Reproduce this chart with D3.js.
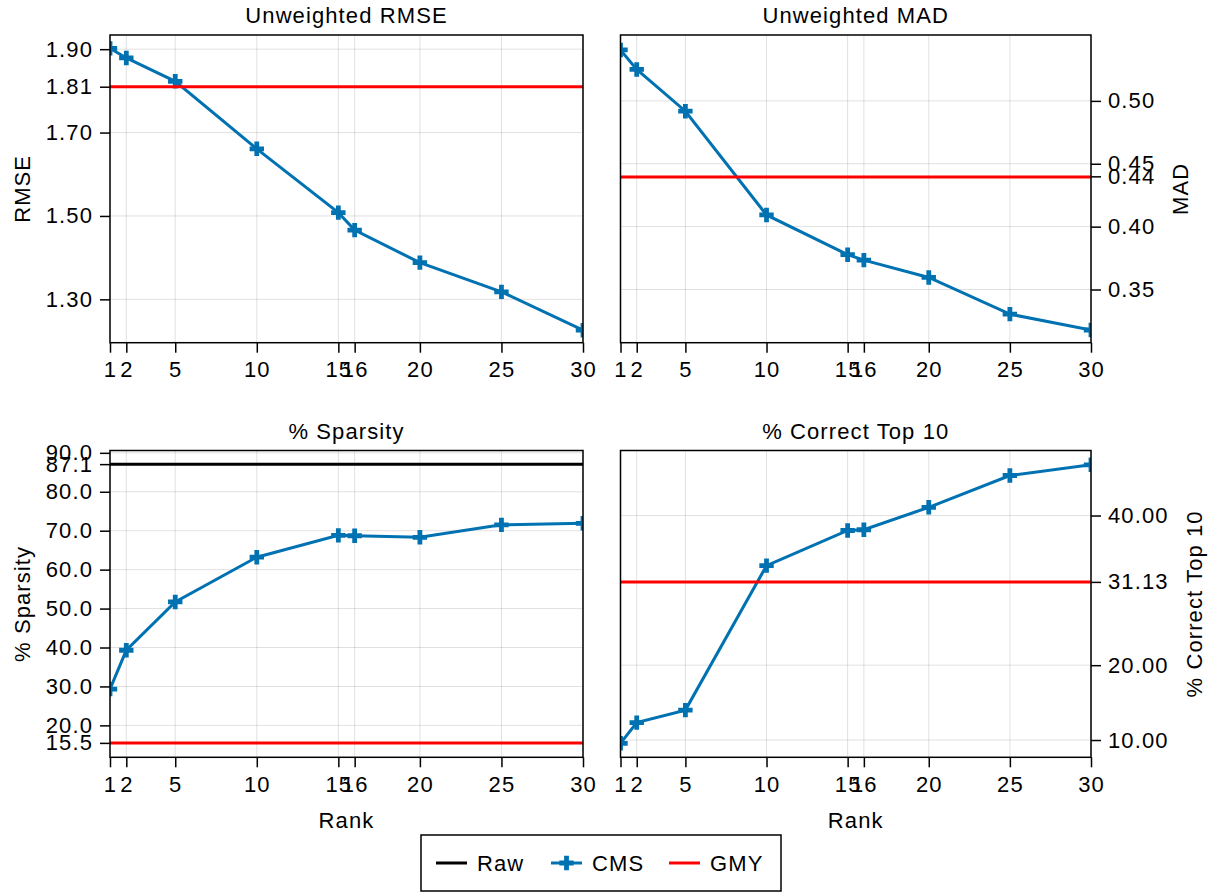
<!DOCTYPE html>
<html>
<head>
<meta charset="utf-8">
<script src="https://d3js.org/d3.v7.min.js"></script>
<style>
  body { margin: 0; background: white; }
  text { font-family: "Liberation Sans", Arial, sans-serif; font-size: 22px; letter-spacing: 1.1px; fill: black; }
</style>
</head>
<body>
<script>
// ranks on the x axis (shared by all panels)
const ranks = [1, 2, 5, 10, 15, 16, 20, 25, 30];
const rankTicks = [1, 2, 5, 10, 15, 16, 20, 25, 30];

// Unweighted RMSE
const rmseCMS = [1.902, 1.879, 1.823, 1.661, 1.508, 1.466, 1.388, 1.318, 1.226];
const rmseGMY = 1.81;
const rmseTicks = [1.30, 1.50, 1.70, 1.81, 1.90];

// Unweighted MAD
const madCMS = [0.5405, 0.525, 0.4918, 0.4093, 0.3777, 0.3734, 0.3596, 0.3304, 0.3178];
const madGMY = 0.4395;
const madTicks = [0.35, 0.40, 0.44, 0.45, 0.50];

// % Sparsity
const sparsityCMS = [29.3, 39.3, 51.7, 63.2, 68.8, 68.7, 68.3, 71.5, 71.9];
const sparsityRaw = 87.1;
const sparsityGMY = 15.5;
const sparsityTicks = [15.5, 20, 30, 40, 50, 60, 70, 80, 87.1, 90];

// % Correct Top 10
const top10CMS = [9.56, 12.32, 14.0, 33.3, 38.0, 38.1, 41.1, 45.35, 46.78];
const top10GMY = 31.13;
const top10Ticks = [10, 20, 31.13, 40];

const W = 1211, H = 892;
const blue = "#0072b2", red = "#ff0000";

const svg = d3.select("body").append("svg").attr("width", W).attr("height", H);

const panels = [
  {title: "Unweighted RMSE", ylabel: "RMSE", side: "left", x0: 110, x1: 583, y0: 35, y1: 342.7,
   domain: [1.196, 1.934], ticks: rmseTicks, fmt: ".2f", cms: rmseCMS, raw: null, gmy: rmseGMY, xlabel: false},
  {title: "Unweighted MAD", ylabel: "MAD", side: "right", x0: 620.5, x1: 1091, y0: 35, y1: 342.7,
   domain: [0.3077, 0.5524], ticks: madTicks, fmt: ".2f", cms: madCMS, raw: null, gmy: madGMY, xlabel: false},
  {title: "% Sparsity", ylabel: "% Sparsity", side: "left", x0: 110, x1: 583, y0: 450.5, y1: 757.3,
   domain: [11.8, 90.6], ticks: sparsityTicks, fmt: ".1f", cms: sparsityCMS, raw: sparsityRaw, gmy: sparsityGMY, xlabel: true},
  {title: "% Correct Top 10", ylabel: "% Correct Top 10", side: "right", x0: 620.5, x1: 1091, y0: 450.5, y1: 757.3,
   domain: [7.69, 48.69], ticks: top10Ticks, fmt: ".2f", cms: top10CMS, raw: null, gmy: top10GMY, xlabel: true}
];

const plus = "M-2.4,-7.2H2.4V-2.4H7.2V2.4H2.4V7.2H-2.4V2.4H-7.2V-2.4H-2.4Z";

panels.forEach((p, i) => {
  const x = d3.scaleLinear().domain([1, 30]).range([p.x0, p.x1]);
  const y = d3.scaleLinear().domain(p.domain).range([p.y1, p.y0]);
  const g = svg.append("g");

  // grid
  g.selectAll(".gx").data(rankTicks).join("line")
    .attr("x1", d => x(d)).attr("x2", d => x(d)).attr("y1", p.y0).attr("y2", p.y1)
    .attr("stroke", "rgba(0,0,0,0.12)").attr("stroke-width", 1);
  g.selectAll(".gy").data(p.ticks).join("line")
    .attr("x1", p.x0).attr("x2", p.x1).attr("y1", d => y(d)).attr("y2", d => y(d))
    .attr("stroke", "rgba(0,0,0,0.12)").attr("stroke-width", 1);

  // axes
  const xa = g.append("g").attr("transform", `translate(0,${p.y1})`)
    .call(d3.axisBottom(x).tickValues(rankTicks).tickFormat(d3.format("d")).tickSize(10).tickPadding(9));
  const ya = p.side === "left"
    ? g.append("g").attr("transform", `translate(${p.x0},0)`)
        .call(d3.axisLeft(y).tickValues(p.ticks).tickFormat(d3.format(p.fmt)).tickSize(10).tickPadding(7))
    : g.append("g").attr("transform", `translate(${p.x1},0)`)
        .call(d3.axisRight(y).tickValues(p.ticks).tickFormat(d3.format(p.fmt)).tickSize(10).tickPadding(7));
  [xa, ya].forEach(a => {
    a.select(".domain").remove();
    a.selectAll("line").attr("stroke", "black").attr("stroke-width", 1.5);
    a.selectAll("text").attr("font-size", null).attr("font-family", null).attr("fill", "black");
  });

  // clipped data area
  const clipId = "clip" + i;
  svg.append("clipPath").attr("id", clipId).append("rect")
    .attr("x", p.x0).attr("y", p.y0).attr("width", p.x1 - p.x0).attr("height", p.y1 - p.y0);
  const area = g.append("g").attr("clip-path", `url(#${clipId})`);

  if (p.raw !== null) {
    area.append("line").attr("x1", p.x0).attr("x2", p.x1).attr("y1", y(p.raw)).attr("y2", y(p.raw))
      .attr("stroke", "black").attr("stroke-width", 3);
  }
  const line = d3.line().x((d, j) => x(ranks[j])).y(d => y(d));
  area.append("path").datum(p.cms).attr("d", line)
    .attr("fill", "none").attr("stroke", blue).attr("stroke-width", 3);
  area.selectAll(".mk").data(p.cms).join("path")
    .attr("d", plus).attr("fill", blue)
    .attr("transform", (d, j) => `translate(${x(ranks[j])},${y(d)})`);
  area.append("line").attr("x1", p.x0).attr("x2", p.x1).attr("y1", y(p.gmy)).attr("y2", y(p.gmy))
    .attr("stroke", red).attr("stroke-width", 3);

  // frame
  g.append("rect").attr("x", p.x0).attr("y", p.y0).attr("width", p.x1 - p.x0).attr("height", p.y1 - p.y0)
    .attr("fill", "none").attr("stroke", "black").attr("stroke-width", 1.5);

  // title
  g.append("text").attr("x", (p.x0 + p.x1) / 2).attr("y", p.y0 - 12).attr("text-anchor", "middle").text(p.title);

  // y label
  const lx = p.side === "left" ? 22 : (p.ticks === top10Ticks ? 1194 : 1180);
  g.append("text").attr("transform", `translate(${lx},${(p.y0 + p.y1) / 2}) rotate(-90)`)
    .attr("text-anchor", "middle").attr("dy", "0.35em").text(p.ylabel);

  if (p.xlabel) {
    g.append("text").attr("x", (p.x0 + p.x1) / 2).attr("y", 828).attr("text-anchor", "middle").text("Rank");
  }
});

// legend
const leg = svg.append("g");
leg.append("rect").attr("x", 421).attr("y", 835).attr("width", 360).attr("height", 56)
  .attr("fill", "white").attr("stroke", "black").attr("stroke-width", 1.5);
const legendItems = [
  {name: "Raw", color: "black", x: 436, marker: false},
  {name: "CMS", color: blue, x: 551, marker: true},
  {name: "GMY", color: red, x: 669, marker: false}
];
legendItems.forEach(it => {
  leg.append("line").attr("x1", it.x).attr("x2", it.x + 31).attr("y1", 863).attr("y2", 863)
    .attr("stroke", it.color).attr("stroke-width", 3);
  if (it.marker) leg.append("path").attr("d", plus).attr("fill", it.color)
    .attr("transform", `translate(${it.x + 15.5},863)`);
  leg.append("text").attr("x", it.x + 41).attr("y", 871).text(it.name);
});
</script>
</body>
</html>
